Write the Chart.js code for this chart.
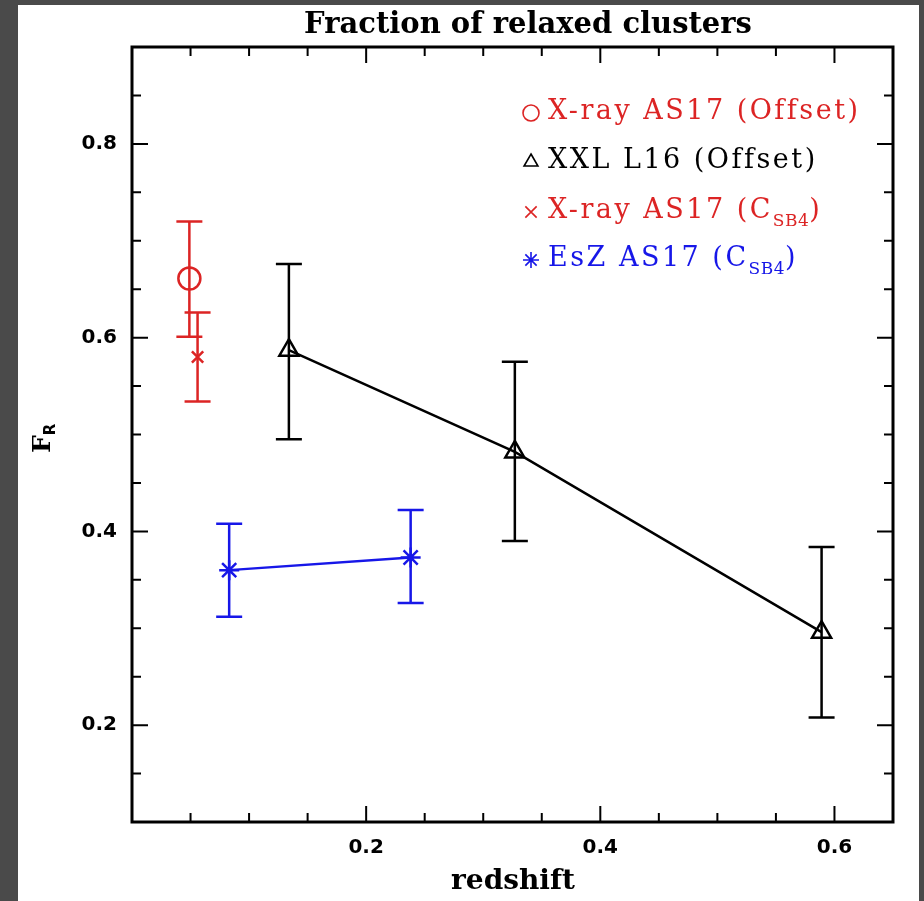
<!DOCTYPE html>
<html>
<head>
<meta charset="utf-8">
<script src="https://cdn.jsdelivr.net/npm/chart.js@4.4.1/dist/chart.umd.min.js"></script>
<style>
  html, body { margin: 0; padding: 0; background: #4a4a4a; width: 924px; height: 901px; overflow: hidden; }
  #wrap { position: absolute; left: 18px; top: 5px; width: 901px; height: 896px; background: #fff; }
</style>
</head>
<body>
<div id="wrap"><canvas id="fracChart" width="901" height="896"></canvas></div>
<script>
// X-ray AS17 (Offset)
const xrayOffZ = [0.049];
const xrayOffF = [0.661];
const xrayOffHi = [0.720];
const xrayOffLo = [0.601];

// XXL L16 (Offset)
const xxlZ = [0.134, 0.327, 0.589];
const xxlF = [0.587, 0.482, 0.296];
const xxlHi = [0.676, 0.575, 0.384];
const xxlLo = [0.495, 0.390, 0.208];

// X-ray AS17 (C_SB4)
const xrayCsbZ = [0.056];
const xrayCsbF = [0.580];
const xrayCsbHi = [0.626];
const xrayCsbLo = [0.534];

// EsZ AS17 (C_SB4)
const eszZ = [0.083, 0.238];
const eszF = [0.360, 0.373];
const eszHi = [0.408, 0.422];
const eszLo = [0.312, 0.326];

const legendLabels = ['X-ray AS17 (Offset)', 'XXL L16 (Offset)', 'X-ray AS17 (C_{SB4})', 'EsZ AS17 (C_{SB4})'];
const xTickLabels = ['0.2', '0.4', '0.6'];
const yTickLabels = ['0.2', '0.4', '0.6', '0.8'];

const RED = '#dc2424';
const BLACK = '#000000';
const BLUE = '#1717e8';
const SERIF = '"DejaVu Serif", serif';

function pts(xs, ys) {
    return xs.map(function(x, i) { return { x: x, y: ys[i] }; });
}

function isMajor(v) {
    return Math.abs(Math.round(v * 20) % 4) === 0;
}

const errorBars = {
    id: 'errorBars',
    beforeDatasetsDraw: function(chart) {
        const ctx = chart.ctx;
        const xs = chart.scales.x, ys = chart.scales.y;
        chart.data.datasets.forEach(function(ds) {
            if (!ds.errHi) return;
            ctx.save();
            ctx.strokeStyle = ds.borderColor;
            ctx.lineWidth = 2.5;
            ds.data.forEach(function(p, i) {
                const px = xs.getPixelForValue(p.x);
                const top = ys.getPixelForValue(ds.errHi[i]);
                const bot = ys.getPixelForValue(ds.errLo[i]);
                ctx.beginPath();
                ctx.moveTo(px, top); ctx.lineTo(px, bot);
                ctx.moveTo(px - 13, top); ctx.lineTo(px + 13, top);
                ctx.moveTo(px - 13, bot); ctx.lineTo(px + 13, bot);
                ctx.stroke();
            });
            ctx.restore();
        });
    }
};

function drawRich(ctx, text, x, y, size, family) {
    const parts = text.split(/_\{([^}]*)\}/);
    let cx = x;
    parts.forEach(function(part, i) {
        if (!part) return;
        const sub = i % 2 === 1;
        ctx.font = (sub ? Math.round(size * 0.62) : size) + 'px ' + family;
        ctx.letterSpacing = sub ? '0.5px' : '2.5px';
        ctx.fillText(part, cx, sub ? y + size * 0.28 : y);
        cx += ctx.measureText(part).width;
    });
    ctx.letterSpacing = '0px';
}

// fit a string into a given width by squeezing horizontally
function fitText(ctx, text, cx, cy, width) {
    const w = ctx.measureText(text).width;
    const k = Math.min(1, width / w);
    ctx.save();
    ctx.translate(cx, cy);
    ctx.scale(k, 1);
    ctx.fillText(text, 0, 0);
    ctx.restore();
}

const frameAndText = {
    id: 'frameAndText',
    afterDraw: function(chart) {
        const ctx = chart.ctx;
        const a = chart.chartArea;
        const xs = chart.scales.x, ys = chart.scales.y;
        ctx.save();
        // inward ticks on all sides
        ctx.strokeStyle = '#000';
        ctx.lineWidth = 2;
        ctx.beginPath();
        xs.ticks.forEach(function(t) {
            const px = xs.getPixelForValue(t.value);
            if (px <= a.left + 1 || px >= a.right - 1) return;
            const len = isMajor(t.value) ? 16 : 9;
            ctx.moveTo(px, a.bottom); ctx.lineTo(px, a.bottom - len);
            ctx.moveTo(px, a.top); ctx.lineTo(px, a.top + len);
        });
        ys.ticks.forEach(function(t) {
            const py = ys.getPixelForValue(t.value);
            if (py <= a.top + 1 || py >= a.bottom - 1) return;
            const len = isMajor(t.value) ? 16 : 9;
            ctx.moveTo(a.left, py); ctx.lineTo(a.left + len, py);
            ctx.moveTo(a.right, py); ctx.lineTo(a.right - len, py);
        });
        ctx.stroke();
        // frame
        ctx.lineWidth = 3;
        ctx.strokeRect(a.left, a.top, a.right - a.left, a.bottom - a.top);

        // title
        ctx.fillStyle = '#000';
        ctx.textAlign = 'center';
        ctx.textBaseline = 'alphabetic';
        ctx.font = 'bold 29px ' + SERIF;
        fitText(ctx, 'Fraction of relaxed clusters', 510, 28, 461);

        // x axis title
        ctx.font = 'bold 28px ' + SERIF;
        fitText(ctx, 'redshift', 495, 884, 124);

        // y axis title F_R
        ctx.save();
        ctx.translate(22, 436);
        ctx.rotate(-Math.PI / 2);
        ctx.textAlign = 'left';
        ctx.textBaseline = 'alphabetic';
        ctx.font = 'bold 25px ' + SERIF;
        ctx.fillText('F', -12, 10);
        const fw = ctx.measureText('F').width;
        ctx.font = 'bold 15px "DejaVu Sans", sans-serif';
        ctx.fillText('R', -12 + fw, 15);
        ctx.restore();

        // legend
        const colors = [RED, BLACK, RED, BLUE];
        const styles = ['circle', 'triangle', 'crossRot', 'star'];
        const rowY = [114, 163, 213, 261];
        ctx.textAlign = 'left';
        legendLabels.forEach(function(label, i) {
            ctx.fillStyle = 'rgba(0,0,0,0)';
            ctx.strokeStyle = colors[i];
            ctx.lineWidth = 1.6;
            Chart.helpers.drawPoint(ctx, { pointStyle: styles[i], radius: 8, borderWidth: 1.6, rotation: 0 }, 513, rowY[i] - 6);
            ctx.fillStyle = colors[i];
            drawRich(ctx, label, 530, rowY[i], 27, SERIF);
        });
        ctx.restore();
    }
};

const tickFont = { family: '"DejaVu Sans", sans-serif', weight: 'bold', size: 20 };

const ctxFrac = document.getElementById('fracChart').getContext('2d');
new Chart(ctxFrac, {
    type: 'scatter',
    data: {
        datasets: [
            {
                label: 'X-ray AS17 (Offset)',
                data: pts(xrayOffZ, xrayOffF),
                errHi: xrayOffHi, errLo: xrayOffLo,
                borderColor: RED, backgroundColor: 'rgba(0,0,0,0)',
                pointStyle: 'circle', pointRadius: 11, pointBorderWidth: 2.5,
                showLine: false
            },
            {
                label: 'XXL L16 (Offset)',
                data: pts(xxlZ, xxlF),
                errHi: xxlHi, errLo: xxlLo,
                borderColor: BLACK, backgroundColor: 'rgba(0,0,0,0)',
                pointStyle: 'triangle', pointRadius: 11, pointBorderWidth: 2.5,
                showLine: true, borderWidth: 2.5
            },
            {
                label: 'X-ray AS17 (C_SB4)',
                data: pts(xrayCsbZ, xrayCsbF),
                errHi: xrayCsbHi, errLo: xrayCsbLo,
                borderColor: RED, backgroundColor: 'rgba(0,0,0,0)',
                pointStyle: 'crossRot', pointRadius: 8, pointBorderWidth: 2.5,
                showLine: false
            },
            {
                label: 'EsZ AS17 (C_SB4)',
                data: pts(eszZ, eszF),
                errHi: eszHi, errLo: eszLo,
                borderColor: BLUE, backgroundColor: 'rgba(0,0,0,0)',
                pointStyle: 'star', pointRadius: 10, pointBorderWidth: 2.5,
                showLine: true, borderWidth: 2.5
            }
        ]
    },
    options: {
        responsive: false,
        animation: false,
        layout: { padding: { left: 0, right: 26, top: 42, bottom: 0 } },
        plugins: {
            legend: { display: false },
            title: { display: false },
            tooltip: { enabled: false }
        },
        scales: {
            x: {
                type: 'linear',
                min: 0, max: 0.65,
                grid: { display: false, drawTicks: false },
                border: { display: false },
                afterFit: function(s) { s.height = 79; },
                ticks: {
                    stepSize: 0.05,
                    autoSkip: false,
                    maxRotation: 0,
                    padding: 14,
                    color: '#000',
                    font: tickFont,
                    callback: function(v) {
                        const s = v.toFixed(1);
                        return (isMajor(v) && xTickLabels.indexOf(s) >= 0) ? s : '';
                    }
                }
            },
            y: {
                type: 'linear',
                min: 0.1, max: 0.9,
                grid: { display: false, drawTicks: false },
                border: { display: false },
                afterFit: function(s) { s.width = 114; },
                ticks: {
                    stepSize: 0.05,
                    autoSkip: false,
                    padding: 15,
                    color: '#000',
                    font: tickFont,
                    callback: function(v) {
                        const s = v.toFixed(1);
                        return (isMajor(v) && yTickLabels.indexOf(s) >= 0) ? s : '';
                    }
                }
            }
        }
    },
    plugins: [errorBars, frameAndText]
});
</script>
</body>
</html>
